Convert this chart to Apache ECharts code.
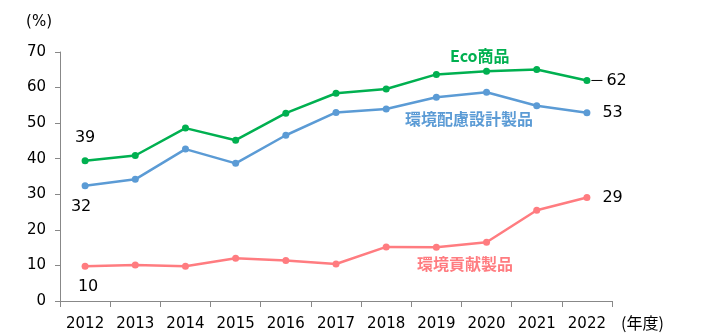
<!DOCTYPE html>
<html>
<head>
<meta charset="utf-8">
<script src="https://cdn.jsdelivr.net/npm/echarts@6/dist/echarts.min.js"></script>
<style>
  html, body { margin: 0; padding: 0; background: #fff; }
  #chart { width: 715px; height: 336px; }
</style>
</head>
<body>
<div id="chart"></div>
<script>
// Fiscal years on the category axis
const years = ['2012', '2013', '2014', '2015', '2016', '2017', '2018', '2019', '2020', '2021', '2022'];

// Share of sales (%) per product group
const ecoProducts = [39.4, 40.9, 48.6, 45.2, 52.8, 58.4, 59.6, 63.7, 64.6, 65.1, 62.0];
const designProducts = [32.4, 34.2, 42.7, 38.7, 46.6, 53.0, 54.0, 57.3, 58.7, 54.9, 52.9];
const contributionProducts = [9.8, 10.1, 9.8, 12.0, 11.4, 10.4, 15.2, 15.1, 16.5, 25.5, 29.1];

// Value axis ticks
const yTicks = [0, 10, 20, 30, 40, 50, 60, 70];

const seriesNames = ['Eco商品', '環境配慮設計製品', '環境貢献製品'];
const colors = ['#00B050', '#5B9BD5', '#FF7C80'];

const FONT = '"DejaVu Sans", Verdana, sans-serif';
const JP_FONT = '"Noto Sans CJK JP", sans-serif';

const labelText = {
  fontFamily: FONT, fontSize: 16, color: '#000'
};

// Label the first and last point of each series
function withEndLabels(values, firstPos, lastLabel) {
  return values.map((v, i) => {
    if (i === 0) {
      return { value: v, label: Object.assign({ show: true, position: firstPos.position, distance: firstPos.distance, offset: firstPos.offset || [0, 0], formatter: p => Math.round(p.value) }, labelText) };
    }
    if (i === values.length - 1) {
      return { value: v, label: Object.assign({ show: true, position: 'right', distance: 12, formatter: p => Math.round(p.value) }, labelText, lastLabel || {}) };
    }
    return v;
  });
}

const chart = echarts.init(document.getElementById('chart'), null, { renderer: 'canvas' });

function lineSeries(name, values, color, firstPos, lastLabel) {
  return {
    name: name,
    type: 'line',
    data: withEndLabels(values, firstPos, lastLabel),
    symbol: 'circle',
    symbolSize: 7,
    lineStyle: { color: color, width: 2.5 },
    itemStyle: { color: color },
    emphasis: { disabled: true },
    animation: false
  };
}

chart.setOption({
  animation: false,
  grid: { left: 60, right: 103, top: 52, bottom: 35, containLabel: false },
  xAxis: {
    type: 'category',
    data: years,
    boundaryGap: true,
    name: '(年度)',
    nameLocation: 'end',
    nameGap: 9,
    nameTextStyle: { fontFamily: JP_FONT, fontSize: 16, color: '#000', verticalAlign: 'top', padding: [14, 0, 0, 0] },
    axisLine: { lineStyle: { color: '#888', width: 1 } },
    axisTick: { show: true, length: 6, lineStyle: { color: '#888' } },
    axisLabel: { fontFamily: FONT, fontSize: 15, color: '#000', margin: 16 },
    splitLine: { show: false }
  },
  yAxis: {
    type: 'value',
    min: yTicks[0],
    max: yTicks[yTicks.length - 1],
    interval: 10,
    name: '(%)',
    nameLocation: 'end',
    nameGap: 22,
    nameTextStyle: { fontFamily: FONT, fontSize: 15, color: '#000', align: 'right', padding: [0, 8, 0, 0] },
    axisLine: { show: true, lineStyle: { color: '#888', width: 1 } },
    axisTick: { show: true, length: 5, lineStyle: { color: '#888' } },
    axisLabel: { fontFamily: FONT, fontSize: 15, color: '#000', margin: 14 },
    splitLine: { show: false }
  },
  series: [
    lineSeries(seriesNames[0], ecoProducts, colors[0],
      { position: 'top', distance: 12 },
      {
        // short leader line drawn in front of the value
        distance: 1,
        formatter: p => '{lead|}{num|' + Math.round(p.value) + '}',
        rich: {
          lead: { width: 11, height: 1, backgroundColor: '#000', verticalAlign: 'middle' },
          num: { fontFamily: FONT, fontSize: 16, color: '#000', padding: [0, 0, 0, 4], verticalAlign: 'middle' }
        }
      }),
    lineSeries(seriesNames[1], designProducts, colors[1],
      { position: 'bottom', distance: 10, offset: [-4, 0] }),
    lineSeries(seriesNames[2], contributionProducts, colors[2],
      { position: 'bottom', distance: 9, offset: [3, 0] })
  ],
  graphic: [
    { type: 'text', left: 450, top: 48, style: { text: seriesNames[0], fontFamily: JP_FONT, fontWeight: 'bold', fontSize: 16, fill: colors[0] } },
    { type: 'text', left: 405, top: 111, style: { text: seriesNames[1], fontFamily: JP_FONT, fontWeight: 'bold', fontSize: 16, fill: colors[1] } },
    { type: 'text', left: 417, top: 256, style: { text: seriesNames[2], fontFamily: JP_FONT, fontWeight: 'bold', fontSize: 16, fill: colors[2] } }
  ]
});
</script>
</body>
</html>
